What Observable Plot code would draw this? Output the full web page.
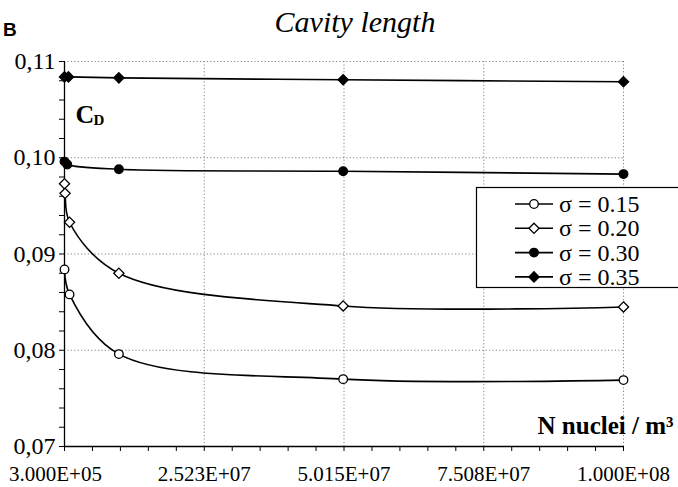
<!DOCTYPE html>
<html>
<head>
<meta charset="utf-8">
<script src="https://cdn.jsdelivr.net/npm/d3@7"></script>
<script src="https://cdn.jsdelivr.net/npm/@observablehq/plot@0.6"></script>
<style>
  html, body { margin: 0; padding: 0; background: #fff; }
  #wrap { position: relative; width: 678px; height: 487px; overflow: hidden; font-family: "Liberation Serif", serif; }
  #legend { position: absolute; left: 476px; top: 187px; }
  #panel { position: absolute; left: 3px; top: 19px; font: bold 19px "Liberation Sans", sans-serif; line-height: 22px; }
</style>
</head>
<body>
<div id="wrap"><div id="chart"></div><div id="legend"></div><div id="panel"></div></div>
<script>
// ---- data ----
const seriesNames = ["σ = 0.15", "σ = 0.20", "σ = 0.30", "σ = 0.35"];
const n015 = [3e5, 1.2e6, 1e7, 5e7, 1e8];
const cd015 = [0.0884, 0.0858, 0.0796, 0.0770, 0.0769];
const n020 = [3e5, 4e5, 1.2e6, 1e7, 5e7, 1e8];
const cd020 = [0.0973, 0.0963, 0.0933, 0.0880, 0.0846, 0.0845];
const n030 = [3e5, 8e5, 1e7, 5e7, 1e8];
const cd030 = [0.0996, 0.0993, 0.0988, 0.0986, 0.0983];
const n035 = [3e5, 1e6, 1e7, 5e7, 1e8];
const cd035 = [0.1084, 0.1084, 0.1083, 0.1081, 0.1079];

const xTicks = [3e5, 2.523e7, 5.015e7, 7.508e7, 1e8];
const xTickLabels = ["3.000E+05", "2.523E+07", "5.015E+07", "7.508E+07", "1.000E+08"];
const yTicks = [0.07, 0.08, 0.09, 0.10, 0.11];
const yTickLabels = ["0,07", "0,08", "0,09", "0,10", "0,11"];

const titleText = "Cavity length";
const panelText = "B";
const yName = ["C", "D"];
const xName = "N nuclei / m³";

// symbol styles per series
const symbols = ["circle", "diamond2", "circle", "diamond2"];
const fills = ["white", "white", "black", "black"];

// ---- build table ----
const cols = [[n015, cd015], [n020, cd020], [n030, cd030], [n035, cd035]];
const data = [];
cols.forEach(([xs, ys], i) => xs.forEach((x, j) => data.push({series: seriesNames[i], k: i, x, y: ys[j]})));

// minor ticks (5 subdivisions between majors)
const xMinor = [];
for (let i = 0; i < xTicks.length - 1; i++)
  for (let s = 0; s < 5; s++) xMinor.push(xTicks[i] + (xTicks[i + 1] - xTicks[i]) * s / 5);
xMinor.push(xTicks[xTicks.length - 1]);
const yMinor = [];
for (let i = 0; i < yTicks.length - 1; i++)
  for (let s = 0; s < 5; s++) yMinor.push(yTicks[i] + (yTicks[i + 1] - yTicks[i]) * s / 5);
yMinor.push(yTicks[yTicks.length - 1]);

const serif = "Liberation Serif, serif";

const chart = Plot.plot({
  width: 678,
  height: 487,
  marginLeft: 64,
  marginRight: 55,
  marginTop: 61,
  marginBottom: 41,
  style: {fontFamily: serif, background: "white", overflow: "visible"},
  x: {domain: [3e5, 1e8], axis: null},
  y: {domain: [0.07, 0.11], axis: null},
  marks: [
    Plot.gridY(yTicks.slice(1), {stroke: "#666", strokeOpacity: 1, strokeWidth: 0.8, strokeDasharray: "1.2,2.2"}),
    Plot.gridX(xTicks.slice(1), {stroke: "#666", strokeOpacity: 1, strokeWidth: 0.8, strokeDasharray: "1.2,2.2"}),
    Plot.ruleX([xTicks[0]], {stroke: "black", strokeWidth: 1.3}),
    Plot.ruleY([yTicks[0]], {stroke: "black", strokeWidth: 1.3}),
    Plot.axisX(xMinor, {tickSize: 5, tickFormat: () => "", label: null, stroke: "black", strokeWidth: 1}),
    Plot.axisY(yMinor, {tickSize: 5, tickFormat: () => "", label: null, stroke: "black", strokeWidth: 1}),
    Plot.axisX(xTicks.slice(0, 1), {tickSize: 0, tickPadding: 20, dx: -9, tickFormat: () => xTickLabels[0], label: null, fontSize: 21, fontFamily: serif, fill: "black"}),
    Plot.axisX(xTicks.slice(1), {tickSize: 0, tickPadding: 20, tickFormat: (d, i) => xTickLabels[i + 1], label: null, fontSize: 21, fontFamily: serif, fill: "black"}),
    Plot.axisY(yTicks, {tickSize: 0, tickPadding: 9, tickFormat: (d, i) => yTickLabels[i], label: null, fontSize: 24, fontFamily: serif, fill: "black"}),
    Plot.line(data, {x: "x", y: "y", z: "series", curve: "catmull-rom", stroke: "black", strokeWidth: 1.6}),
    ...seriesNames.map((s, i) => Plot.dot(data.filter(d => d.k === i), {
      x: "x", y: "y", symbol: () => symbols[i], r: i % 2 ? 4.6 : 4.3,
      fill: fills[i], stroke: "black", strokeWidth: 1.3
    })),
    Plot.text([titleText], {frameAnchor: "top", lineAnchor: "bottom", dx: 11, dy: -30, fontSize: 30, fontStyle: "italic", fontFamily: serif, fill: "black"}),
    Plot.text([yName[0]], {frameAnchor: "top-left", textAnchor: "start", lineAnchor: "bottom", dx: 11, dy: 61, fontSize: 26, fontWeight: "bold", fontFamily: serif, fill: "black"}),
    Plot.text([yName[1]], {frameAnchor: "top-left", textAnchor: "start", lineAnchor: "bottom", dx: 29, dy: 63, fontSize: 15, fontWeight: "bold", fontFamily: serif, fill: "black"}),
    Plot.text([xName], {frameAnchor: "bottom-right", textAnchor: "end", lineAnchor: "bottom", dx: 50, dy: -13, fontSize: 25, fontWeight: "bold", fontFamily: serif, fill: "black"})
  ]
});
document.getElementById("chart").appendChild(chart);
document.getElementById("panel").textContent = panelText;

// ---- legend ----
const lw = 210, lh = 101;
const lg = d3.select("#legend").append("svg").attr("width", lw).attr("height", lh)
  .style("display", "block").style("overflow", "visible");
lg.append("rect").attr("x", 0.5).attr("y", 0.5).attr("width", lw).attr("height", lh - 1)
  .attr("fill", "white").attr("stroke", "black").attr("stroke-width", 1.2);
seriesNames.forEach((s, i) => {
  const cy = 17 + i * 24.3;
  const g = lg.append("g").attr("transform", `translate(0,${cy})`);
  g.append("line").attr("x1", 39).attr("x2", 77).attr("y1", 0).attr("y2", 0)
    .attr("stroke", "black").attr("stroke-width", 1.6);
  const sym = symbols[i] === "circle" ? d3.symbolCircle : d3.symbolDiamond2;
  const r = i % 2 ? 4.6 : 4.3;
  g.append("path").attr("d", d3.symbol(sym, Math.PI * r * r)())
    .attr("transform", "translate(58,0)")
    .attr("fill", fills[i]).attr("stroke", "black").attr("stroke-width", 1.3);
  g.append("text").attr("x", 83).attr("y", 0).attr("dy", "0.34em")
    .attr("font-family", serif).attr("font-size", 24).attr("fill", "black").text(s);
});
</script>
</body>
</html>
